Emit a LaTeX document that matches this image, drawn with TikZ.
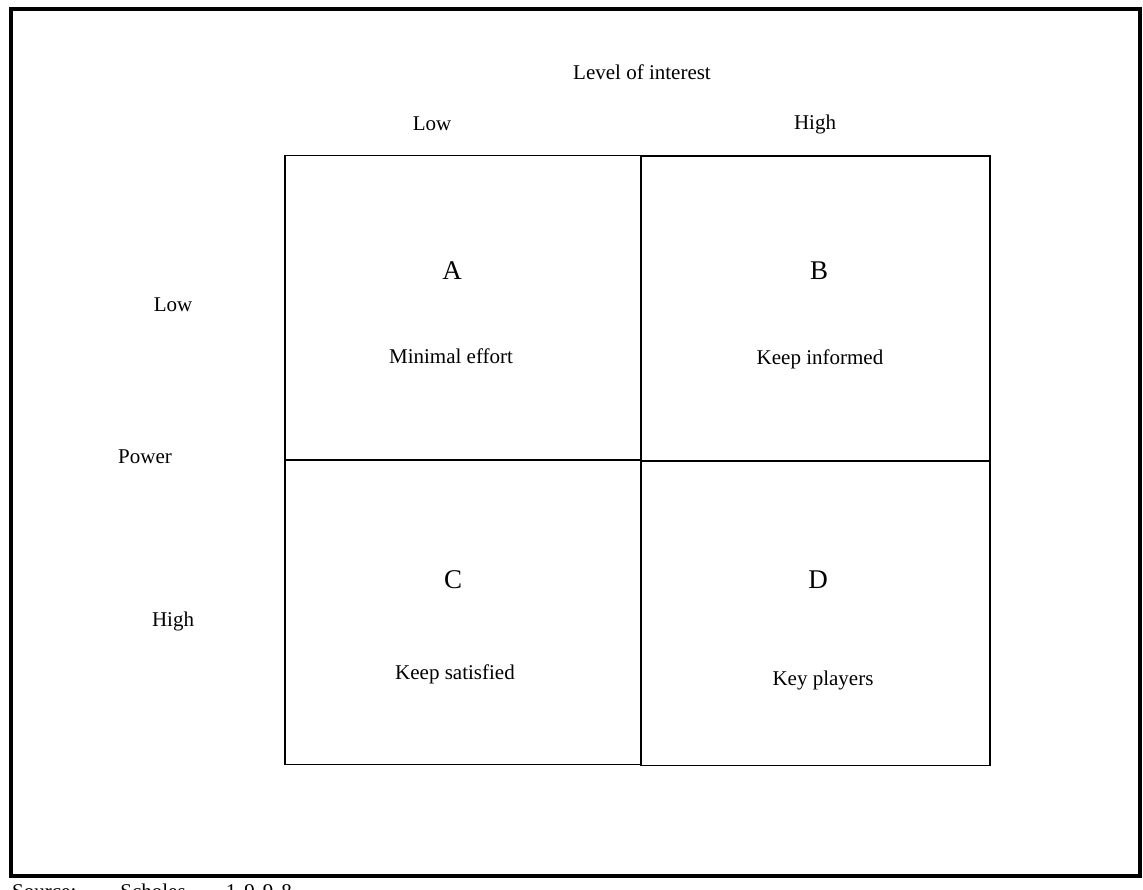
\documentclass[tikz,border=0pt]{standalone}
\usepackage{fontspec}
\setmainfont{Liberation Serif}
\usetikzlibrary{positioning}

\begin{document}
\begin{tikzpicture}[x=1pt, y=-1pt,
    every node/.style={font=\fontsize{21}{25}\selectfont, inner sep=0pt},
    cell/.style={draw, line width=1.4pt, minimum width=#1, minimum height=305pt},
    letter/.style={font=\fontsize{27}{32}\selectfont}]
  \useasboundingbox (0,0) rectangle (1143,889);
  \draw[line width=4pt] (10.5,8.5) rectangle (1140,875.5);

  % the four boxes
  \node[cell=356pt] (ca) at (463,308) {};
  \node[cell=349pt] (cb) at (815.5,308.5) {};
  \node[cell=356pt] (cc) at (463,612) {};
  \node[cell=349pt] (cd) at (815.5,613) {};

  % axes
  \node (interest) at (642,72) {Level of interest};
  \node (ilow) at (432,124) {Low};
  \node (ihigh) at (815,124) {High};
  \node (plow) at (173,305) {Low};
  \node (power) at (145,457) {Power};
  \node (phigh) at (173,621) {High};

  % cell texts
  \node[letter] (la) at (452,271) {A};
  \node (ta) at (451,356) {Minimal effort};
  \node[letter] (lb) at (819,271) {B};
  \node (tb) at (820,359) {Keep informed};
  \node[letter] (lc) at (453,580) {C};
  \node (tc) at (455,674) {Keep satisfied};
  \node[letter] (ld) at (818,580) {D};
  \node (td) at (823,680) {Key players};

  \node[anchor=north west] (src) at (12,884)
    {Source:\hspace{44pt}Scholes,\hspace{35pt}1\hspace{8pt}9\hspace{8pt}9\hspace{8pt}8};
\end{tikzpicture}
\end{document}
